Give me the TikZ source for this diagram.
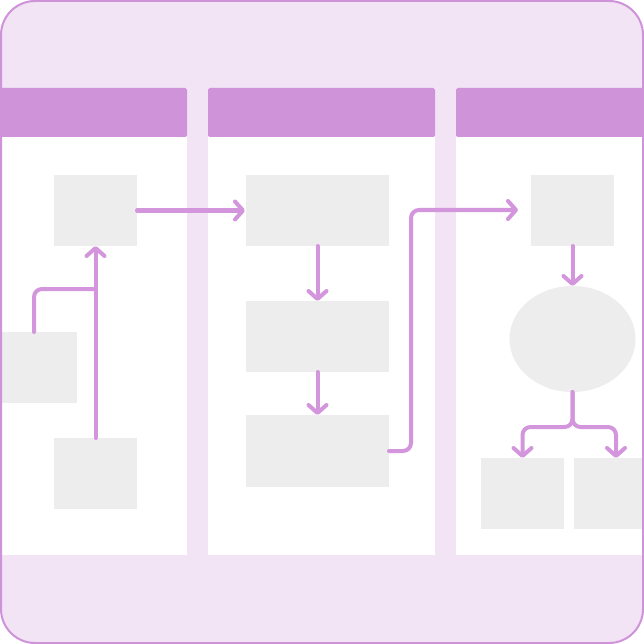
\documentclass[tikz,border=0pt]{standalone}
\usetikzlibrary{arrows.meta,shapes.geometric}
\definecolor{bgpurple}{HTML}{F2E3F5}
\definecolor{headpurple}{HTML}{CF93D9}
\definecolor{linepurple}{HTML}{D395DC}
\definecolor{boxgray}{HTML}{EDEDED}
\tikzset{
  box/.style={rectangle, fill=boxgray, inner sep=0pt, outer sep=0pt},
  oval/.style={ellipse, fill=boxgray, inner sep=0pt, outer sep=0pt},
  conn/.style={draw=linepurple, line width=4pt, line cap=round, line join=round, rounded corners=8pt,
    -{Straight Barb[round, length=8pt, width=18pt]}},
  plainconn/.style={draw=linepurple, line width=4pt, line cap=round, line join=round, rounded corners=8pt},
  lane/.style={fill=white},
  header/.style={fill=headpurple, rounded corners=2pt}
}
\begin{document}
\begin{tikzpicture}[x=1pt,y=-1pt]
\useasboundingbox (0,0) rectangle (644,644);
% outer background
\fill[bgpurple, rounded corners=34pt] (1,1) rectangle (643,643);
% lanes
\begin{scope}
\clip[rounded corners=34pt] (1,1) rectangle (643,643);
\fill[lane] (0,88) rectangle (187,555);
\fill[lane] (208,88) rectangle (435,555);
\fill[lane] (456,88) rectangle (644,555);
\fill[header] (0,88) rectangle (187,137);
\fill[header] (208,88) rectangle (435,137);
\fill[header] (456,88) rectangle (650,137);
% boxes
\node[box, minimum width=83pt, minimum height=71pt] (A) at (95.5,210.5) {};
\node[box, minimum width=77pt, minimum height=71pt] (B) at (38.5,367.5) {};
\node[box, minimum width=83pt, minimum height=71pt] (C) at (95.5,473.5) {};
\node[box, minimum width=143pt, minimum height=71pt] (D) at (317.5,210.5) {};
\node[box, minimum width=143pt, minimum height=71pt] (E) at (317.5,336.5) {};
\node[box, minimum width=143pt, minimum height=72pt] (F) at (317.5,451) {};
\node[box, minimum width=83pt, minimum height=71pt] (G) at (572.5,210.5) {};
\node[oval, minimum width=126pt, minimum height=106pt] (H) at (572.5,339) {};
\node[box, minimum width=83pt, minimum height=71pt] (I) at (522.5,493.5) {};
\node[box, minimum width=71pt, minimum height=71pt] (J) at (609.5,493.5) {};
\end{scope}
% connectors
\coordinate (m1) at (95,289);
\coordinate (b1) at (34,332);
\coordinate (k1) at (411,210);
\coordinate (g1) at (518,210);
\coordinate (s1) at (572.5,427);
\coordinate (i1) at (522.5,458);
\coordinate (j1) at (616,458);
\draw[conn] (A.east) -- ([xshift=-1pt]D.west);
\draw[conn] (C.north) -- (A.south);
\draw[plainconn] (b1) |- (m1);
\draw[conn] (D.south) -- (E.north);
\draw[conn] (E.south) -- (F.north);
\draw[conn] (F.east) -| (k1) -- (g1);
\draw[conn] (G.south) -- (H.north);
\draw[conn] (H.south) -- (s1) -| (i1);
\draw[conn] (H.south) -- (s1) -| (j1);
% border
\draw[headpurple, line width=2pt, rounded corners=34pt] (1,1) rectangle (643,643);
\end{tikzpicture}
\end{document}
